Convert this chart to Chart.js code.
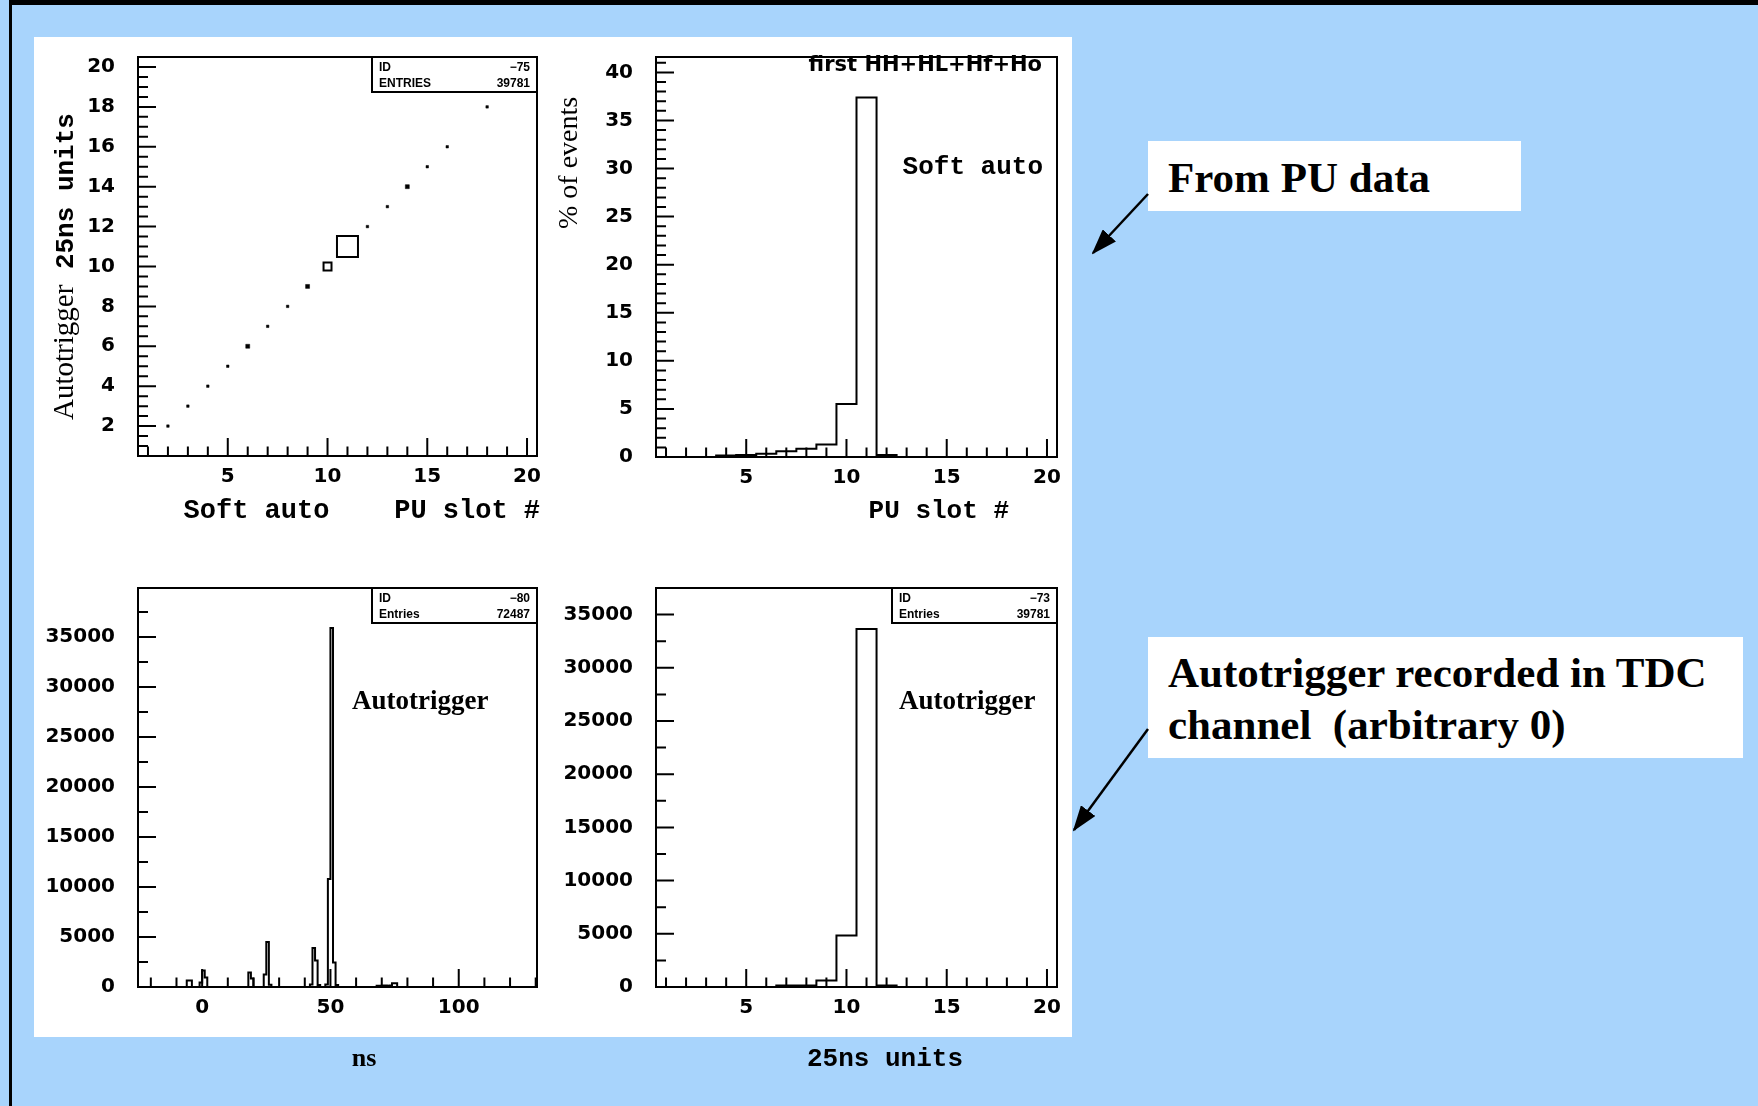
<!DOCTYPE html>
<html>
<head>
<meta charset="utf-8">
<script src="https://cdn.jsdelivr.net/npm/chart.js@4.4.1/dist/chart.umd.min.js"></script>
<style>
html, body { margin: 0; padding: 0; }
body { width: 1758px; height: 1106px; background: #a8d4fc; position: relative; overflow: hidden; }
#edge { position: absolute; left: 9px; top: 0; right: 0; bottom: 0; border-top: 5px solid #000; border-left: 3px solid #000; }
#sheet { position: absolute; left: 34px; top: 37px; width: 1038px; height: 1000px; background: #fff; }
canvas { position: absolute; }
.callout { position: absolute; background: #fff; color: #000; font-family: "Liberation Serif", serif; font-weight: bold; font-size: 43px; line-height: 52px; white-space: pre; box-sizing: border-box; }
svg { position: absolute; left: 0; top: 0; }
</style>
</head>
<body>
<div id="edge"></div>
<div id="sheet"></div>
<div class="callout" style="left:1148px; top:141px; width:373px; height:70px; padding:11px 0 0 20px;">From PU data</div>
<div class="callout" style="left:1148px; top:637px; width:595px; height:121px; padding:10px 0 0 20px;">Autotrigger recorded in TDC
channel  (arbitrary 0)</div>
<svg width="1758" height="1106">
  <defs>
    <marker id="ah" markerUnits="userSpaceOnUse" markerWidth="26" markerHeight="18" refX="24" refY="9" orient="auto">
      <path d="M0,0 L26,9 L0,18 z" fill="#000"/>
    </marker>
  </defs>
  <line x1="1148" y1="194" x2="1093" y2="253" stroke="#000" stroke-width="2.5" marker-end="url(#ah)"/>
  <line x1="1148" y1="729" x2="1074" y2="830" stroke="#000" stroke-width="2.5" marker-end="url(#ah)"/>
</svg>
<script>
// tick labels
const slotTicks = [5, 10, 15, 20];
const diagTicks = [2, 4, 6, 8, 10, 12, 14, 16, 18, 20];
const pctTicks = [0, 5, 10, 15, 20, 25, 30, 35, 40];
const countTicks = [0, 5000, 10000, 15000, 20000, 25000, 30000, 35000];
const nsTicks = [0, 50, 100];

// soft auto slot vs autotrigger slot (box plot)
const boxSoft = [2, 3, 4, 5, 6, 7, 8, 9, 10, 11, 12, 13, 14, 15, 16, 18];
const boxAuto = [2, 3, 4, 5, 6, 7, 8, 9, 10, 11, 12, 13, 14, 15, 16, 18];
const boxCounts = [300, 300, 300, 300, 1200, 450, 450, 1200, 4840, 33640, 450, 300, 1200, 300, 300, 300];

// first HH+HL+Hf+Ho, soft auto, % of events per PU slot
const pctSlots = [4, 5, 6, 7, 8, 9, 10, 11, 12];
const pctValues = [0.15, 0.2, 0.35, 0.6, 0.85, 1.3, 5.5, 37.4, 0.2];

// autotrigger TDC time, 1 ns bins (lower edge)
const tdcNs = [-6, -5, -1, 0, 1, 18, 19, 24, 25, 26, 42, 43, 44, 45, 48, 49, 50, 51, 52, 68, 69, 70, 71, 72, 73, 74, 75];
const tdcCounts = [650, 650, 450, 1650, 950, 1450, 850, 1250, 4500, 220, 250, 3900, 2650, 200, 250, 10800, 35900, 2450, 200, 120, 120, 150, 150, 120, 150, 380, 380];

// autotrigger in 25ns units
const unitSlots = [7, 8, 9, 10, 11, 12];
const unitCounts = [150, 150, 600, 4840, 33640, 150];

const TICK_FONT = { family: 'DejaVu Sans', size: 20, weight: 'bold' };
const MONO = 'bold 26px "Liberation Mono"';
const SERIF_B = 'bold 27px "Liberation Serif"';

// histogram outline from bin lower edges
function outline(lows, vals, w) {
    const pts = [];
    lows.forEach((lo, i) => {
        const hi = lo + w;
        if (i === 0 || lows[i - 1] + w !== lo) pts.push({ x: lo, y: 0 });
        pts.push({ x: lo, y: vals[i] }, { x: hi, y: vals[i] });
        if (i === lows.length - 1 || lows[i + 1] !== hi) pts.push({ x: hi, y: 0 });
    });
    return pts;
}

// PAW style frame with inward ticks
const rootFrame = {
    id: 'rootFrame',
    afterDatasetsDraw(chart) {
        const o = chart.config.options.rootTicks;
        const { ctx, chartArea: a, scales: { x, y } } = chart;
        ctx.save();
        ctx.strokeStyle = '#000';
        ctx.lineWidth = 2;
        ctx.beginPath();
        const kx = Math.round(o.xMajor / o.xMinor);
        for (let i = Math.ceil(x.min / o.xMinor - 1e-9); i * o.xMinor <= x.max + 1e-9; i++) {
            const px = x.getPixelForValue(i * o.xMinor);
            const len = ((i % kx) + kx) % kx === 0 ? 18 : 9.5;
            ctx.moveTo(px, a.bottom);
            ctx.lineTo(px, a.bottom - len);
        }
        const ky = Math.round(o.yMajor / o.yMinor);
        for (let i = Math.ceil(y.min / o.yMinor - 1e-9); i * o.yMinor <= y.max + 1e-9; i++) {
            const py = y.getPixelForValue(i * o.yMinor);
            const len = ((i % ky) + ky) % ky === 0 ? 18 : 10;
            ctx.moveTo(a.left, py);
            ctx.lineTo(a.left + len, py);
        }
        ctx.stroke();
        ctx.strokeRect(a.left, a.top, a.right - a.left, a.bottom - a.top);
        ctx.restore();
    }
};

function makeNotes(items, stats, ox, oy) {
    return {
        id: 'notes',
        afterDraw(chart) {
            const ctx = chart.ctx;
            const a = chart.chartArea;
            ctx.save();
            ctx.fillStyle = '#000';
            ctx.textBaseline = 'alphabetic';
            ctx.textAlign = 'left';
            items.forEach(n => {
                ctx.save();
                ctx.translate(n.x - ox, n.y - oy);
                if (n.rot) ctx.rotate(n.rot * Math.PI / 180);
                let w = 0;
                n.runs.forEach(([t, f]) => { ctx.font = f; w += ctx.measureText(t).width; });
                let cx = n.align === 'right' ? -w : n.align === 'center' ? -w / 2 : 0;
                n.runs.forEach(([t, f]) => { ctx.font = f; ctx.fillText(t, cx, 0); cx += ctx.measureText(t).width; });
                ctx.restore();
            });
            if (stats) {
                const bw = 165, bh = 35;
                const bx = a.right - bw, by = a.top;
                ctx.lineWidth = 2;
                ctx.strokeStyle = '#000';
                ctx.fillStyle = '#fff';
                ctx.fillRect(bx, by, bw, bh);
                ctx.strokeRect(bx, by, bw, bh);
                ctx.fillStyle = '#000';
                ctx.font = 'bold 12px "Liberation Sans"';
                stats.forEach(([k, v], i) => {
                    const ty = by + 14 + i * 16;
                    ctx.textAlign = 'left';
                    ctx.fillText(k, bx + 7, ty);
                    ctx.textAlign = 'right';
                    ctx.fillText(v, bx + bw - 7, ty);
                });
            }
            ctx.restore();
        }
    };
}

function axis(min, max, labels, isY) {
    return {
        type: 'linear',
        min: min,
        max: max,
        grid: { display: false, drawTicks: false },
        border: { display: false },
        ticks: {
            color: '#000',
            font: TICK_FONT,
            padding: isY ? 23 : 9,
            autoSkip: false,
            maxRotation: 0,
            callback: v => String(v)
        },
        afterBuildTicks: s => { s.ticks = labels.map(v => ({ value: v })); },
        afterFit: s => { if (isY) s.width = 110; else s.height = 40; }
    };
}

function makePanel(frame, datasets, xs, ys, ticks, items, stats) {
    const cv = document.createElement('canvas');
    const left = frame.l - 110, top = frame.t - 20;
    cv.width = frame.r - frame.l + 134;
    cv.height = frame.b - frame.t + 110;
    cv.style.left = left + 'px';
    cv.style.top = top + 'px';
    document.body.appendChild(cv);
    return new Chart(cv, {
        type: 'scatter',
        data: { datasets: datasets },
        options: {
            responsive: false,
            animation: false,
            layout: { padding: { left: 0, top: 20, right: 24, bottom: 50 } },
            plugins: { legend: { display: false }, tooltip: { enabled: false } },
            rootTicks: ticks,
            scales: { x: xs, y: ys }
        },
        plugins: [rootFrame, makeNotes(items, stats, left, top)]
    });
}

function histSet(pts) {
    return {
        type: 'line',
        data: pts,
        borderColor: '#000',
        borderWidth: 2,
        pointRadius: 0,
        fill: false,
        tension: 0
    };
}

// panel 1: soft auto vs autotrigger
const boxMax = Math.max(...boxCounts);
const boxSide = c => Math.max(2.5, 21 * Math.sqrt(c / boxMax));
makePanel({ l: 138, t: 42, r: 537, b: 456 }, [{
        data: boxSoft.map((s, i) => ({ x: s, y: boxAuto[i] })),
        pointStyle: 'rect',
        pointRadius: ctx => boxSide(boxCounts[ctx.dataIndex]) * Math.SQRT1_2,
        pointBackgroundColor: ctx => boxSide(boxCounts[ctx.dataIndex]) > 6 ? '#fff' : '#000',
        pointBorderColor: '#000',
        pointBorderWidth: ctx => boxSide(boxCounts[ctx.dataIndex]) > 6 ? 2 : 0.5
    }],
    axis(0.5, 20.5, slotTicks, false), axis(0.5, 20.5, diagTicks, true),
    { xMinor: 1, xMajor: 5, yMinor: 0.5, yMajor: 2 },
    [
        { x: 73, y: 420, rot: -90, runs: [['Autotrigger', '29px "Liberation Serif"'], [' 25ns units', MONO]] },
        { x: 540, y: 518, align: 'right', runs: [['Soft auto    PU slot #', 'bold 27px "Liberation Mono"']] }
    ],
    [['ID', '\u221275'], ['ENTRIES', '39781']]);

// panel 2: % of events per PU slot
makePanel({ l: 656, t: 42, r: 1057, b: 457 }, [histSet(outline(pctSlots.map(s => s - 0.5), pctValues, 1))],
    axis(0.5, 20.5, slotTicks, false), axis(0, 41.6, pctTicks, true),
    { xMinor: 1, xMajor: 5, yMinor: 1, yMajor: 5 },
    [
        { x: 577, y: 229, rot: -90, runs: [['% of events', '28px "Liberation Serif"']] },
        { x: 1042, y: 71, align: 'right', runs: [['first HH+HL+Hf+Ho', 'bold 21px "DejaVu Sans"']] },
        { x: 1043, y: 174, align: 'right', runs: [['Soft auto', MONO]] },
        { x: 1009, y: 518, align: 'right', runs: [['PU slot #', MONO]] }
    ],
    null);

// panel 3: autotrigger TDC time in ns
makePanel({ l: 138, t: 573, r: 537, b: 987 }, [histSet(outline(tdcNs, tdcCounts, 1))],
    axis(-25, 130.5, nsTicks, false), axis(0, 39900, countTicks, true),
    { xMinor: 10, xMajor: 50, yMinor: 2500, yMajor: 5000 },
    [
        { x: 352, y: 709, runs: [['Autotrigger', SERIF_B]] },
        { x: 364, y: 1066, align: 'center', runs: [['ns', 'bold 26px "Liberation Serif"']] }
    ],
    [['ID', '\u221280'], ['Entries', '72487']]);

// panel 4: autotrigger in 25ns units
makePanel({ l: 656, t: 573, r: 1057, b: 987 }, [histSet(outline(unitSlots.map(s => s - 0.5), unitCounts, 1))],
    axis(0.5, 20.5, slotTicks, false), axis(0, 37500, countTicks, true),
    { xMinor: 1, xMajor: 5, yMinor: 2500, yMajor: 5000 },
    [
        { x: 899, y: 709, runs: [['Autotrigger', SERIF_B]] },
        { x: 807, y: 1066, runs: [['25ns units', MONO]] }
    ],
    [['ID', '\u221273'], ['Entries', '39781']]);
</script>
</body>
</html>
